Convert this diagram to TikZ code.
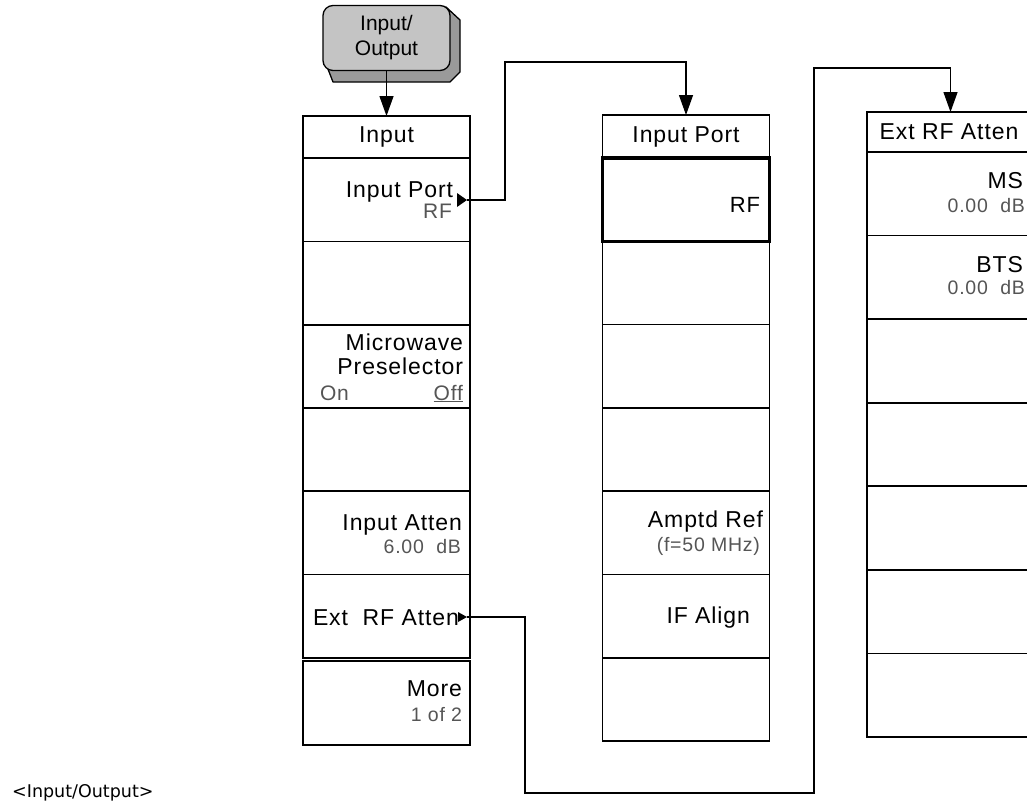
\documentclass[tikz,border=0pt]{standalone}
\usepackage{fontspec}
\setmainfont{Liberation Sans}
\newfontfamily\menufont[LetterSpace=4]{Liberation Sans}
\newfontfamily\capfont{DejaVu Sans}
\usetikzlibrary{arrows.meta}
\definecolor{subgray}{HTML}{555555}
\definecolor{keyface}{HTML}{C4C4C4}
\definecolor{keyshadow}{HTML}{9A9A9A}
\begin{document}
\begin{tikzpicture}[x=1pt,y=-1pt,
  cell/.style={draw, line width=1.6pt, minimum width=167pt, minimum height=83.4pt, inner sep=0pt, outer sep=0pt},
  selcell/.style={cell, line width=3.6pt},
  titlecell/.style={cell, minimum height=42pt},
  mainlbl/.style={font=\menufont\fontsize{23}{26}\selectfont, inner sep=0pt, outer sep=0pt},
  sublbl/.style={font=\menufont\fontsize{19.5}{22}\selectfont, text=subgray, inner sep=0pt, outer sep=0pt},
  biglbl/.style={font=\menufont\fontsize{21}{24}\selectfont, text=subgray, inner sep=0pt, outer sep=0pt},
  conn/.style={line width=1.3pt},
  tip/.style={-{Triangle[width=14pt,length=20pt]}},
  keybox/.style={draw, line width=1.3pt, fill=keyface, rounded corners=10pt, minimum width=127pt, minimum height=65pt, inner sep=0pt, align=center, font=\fontsize{21}{25}\selectfont}
]
\useasboundingbox (0,0) rectangle (1027,804);
\clip (0,0) rectangle (1027,804);
\fill[white] (0,0) rectangle (1027,804);

% ---- hard key ----
\filldraw[fill=keyshadow, draw=black, line width=1.3pt, line join=round]
  (326,64) -- (333,82) -- (450,82) -- (460,72) -- (460,20) -- (446,7) -- cycle;
\node[keybox] (key) at (386.5,38) {Input/\\Output};

% ---- Input column ----
\node[titlecell] (inT) at (386.5,137) {};
\foreach \i in {1,...,6} {
  \node[cell] (in\i) at (386.5,{158+83.33*(\i-0.5)}) {};
}
\node[cell, minimum height=84pt] (in7) at (386.5,703) {};

\node[mainlbl] (inTl) at (386.5,137) {Input};
\node[mainlbl, anchor=base east] (inPort) at (453,197) {Input Port};
\node[biglbl, anchor=base east] (inPortV) at (452,218) {RF};
\node[mainlbl, anchor=base east] (inMw1) at (463,350) {Microwave};
\node[mainlbl, anchor=base east] (inMw2) at (463,374) {Preselector};
\node[biglbl, anchor=base west] (inOn) at (320,400) {On};
\node[biglbl, anchor=base east] (inOff) at (463,400) {\underline{Off}};
\node[mainlbl, anchor=base east] (inAtt) at (462,530) {Input Atten};
\node[sublbl, anchor=base east] (inAttV) at (461,553) {6.00\ \ dB};
\node[mainlbl, anchor=base west] (inExt) at (313,625) {Ext\ \ RF Atten};
\node[mainlbl, anchor=base east] (inMore) at (462,696) {More};
\node[sublbl, anchor=base east] (inMoreV) at (462,721) {1 of 2};

% submenu markers
\fill (457,193) -- (467,200) -- (457,207) -- cycle;
\fill (458,612) -- (467,617) -- (458,622) -- cycle;
\coordinate (ipTip) at (467,200);
\coordinate (erTip) at (467,617);

% ---- Input Port column ----
\node[cell, minimum height=43pt] (ipT) at (686,136.5) {};
\foreach \i in {2,...,7} {
  \node[cell] (ip\i) at (686,{158+83.29*(\i-0.5)}) {};
}
\node[selcell] (ip1) at (686,{158+83.29*0.5}) {};

\node[mainlbl] (ipTl) at (686,136.5) {Input Port};
\node[mainlbl, font=\menufont\fontsize{22}{25}\selectfont, anchor=base east] (ipRF) at (760,212) {RF};
\node[mainlbl, anchor=base east] (ipAmp) at (763,527) {Amptd Ref};
\node[sublbl, anchor=base east] (ipAmpV) at (760,551) {(f=50 MHz)};
\node[mainlbl, anchor=base east] (ipIF) at (750,623) {IF Align};

% ---- Ext RF Atten column ----
\node[cell, minimum height=40pt] (erT) at (950.5,132) {};
\foreach \i in {1,...,7} {
  \node[cell] (er\i) at (950.5,{152+83.57*(\i-0.5)}) {};
}
\node[mainlbl] (erTl) at (949,132) {Ext RF Atten};
\node[mainlbl, anchor=base east] (erMS) at (1023,188) {MS};
\node[sublbl, anchor=base east] (erMSV) at (1025,212) {0.00\ \ dB};
\node[mainlbl, anchor=base east] (erBTS) at (1023,272) {BTS};
\node[sublbl, anchor=base east] (erBTSV) at (1025,294) {0.00\ \ dB};

% ---- connectors ----
\coordinate (b1) at (505,62);
\coordinate (b2) at (525,793);
\coordinate (b3) at (814,68);
\draw[conn, tip] (key.south) -- (inT.north);
\draw[conn, tip] (ipTip) -| (b1) -| (ipT.north);
\draw[conn, tip] (erTip) -| (b2) -| (b3) -| (erT.north);

% ---- caption ----
\node[font=\capfont\fontsize{17.5}{20}\selectfont, anchor=base west, inner sep=0pt] (cap) at (12,797) {<Input/Output>};
\end{tikzpicture}
\end{document}
